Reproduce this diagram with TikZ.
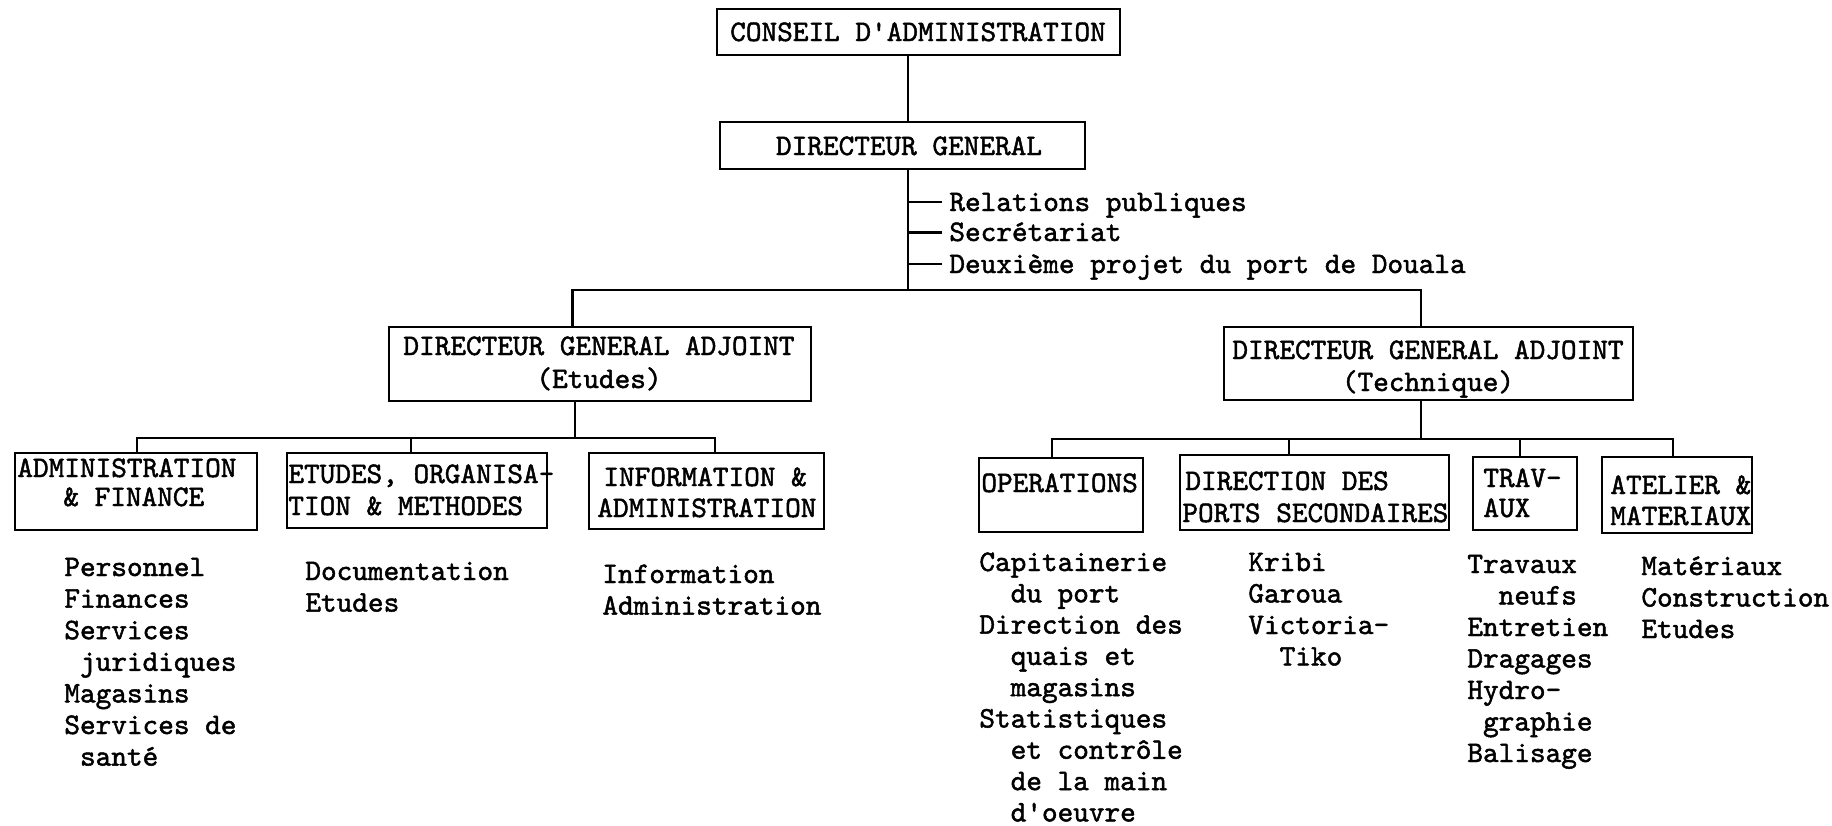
\documentclass[tikz,border=0pt]{standalone}
\usepackage{fontspec}
\newfontfamily\tw[FakeBold=1.6]{lmmono10-regular.otf}
\tikzset{
  box/.style={draw, line width=1.1pt, rectangle, inner sep=0pt},
  tx/.style={anchor=base west, inner sep=0pt, text depth=0pt, font=\tw\fontsize{14.9pt}{15.75pt}\selectfont},
  txc/.style={anchor=base, inner sep=0pt, text depth=0pt, font=\tw\fontsize{14.9pt}{15.75pt}\selectfont},
  ln/.style={line width=1.1pt}
}
\newcommand{\ind}[1]{\hspace*{#1\dimexpr 7.8225pt\relax}}
\begin{document}
\begin{tikzpicture}[x=0.5pt,y=-0.5pt]
\useasboundingbox (0,0) rectangle (1832,825);
% boxes
\node[box, minimum width=201.5pt, minimum height=23pt] (CA) at (918.5,32) {};
\node[box, minimum width=182.5pt, minimum height=23.5pt] (DG) at (902.5,145.5) {};
\node[box, minimum width=211pt, minimum height=37pt] (DGAE) at (600,364) {};
\node[box, minimum width=204.5pt, minimum height=36.5pt] (DGAT) at (1428.5,363.5) {};
\node[box, minimum width=121pt, minimum height=38.5pt] (ADM) at (136,491.5) {};
\node[box, minimum width=130pt, minimum height=37.5pt] (ETU) at (417,490.5) {};
\node[box, minimum width=117.5pt, minimum height=38pt] (INF) at (706.5,491) {};
\node[box, minimum width=82pt, minimum height=37pt] (OPS) at (1061,495) {};
\node[box, minimum width=134.5pt, minimum height=37.5pt] (DIR) at (1314.5,492.5) {};
\node[box, minimum width=52pt, minimum height=36.5pt] (TRA) at (1525,493.5) {};
\node[box, minimum width=75pt, minimum height=38pt] (ATE) at (1677,495) {};
% box texts
\node[txc] (CAt) at (918,41) {CONSEIL D'ADMINISTRATION};
\node[txc] (DGt) at (909,155) {DIRECTEUR GENERAL};
\node[txc] (DGAE1) at (599,355) {DIRECTEUR GENERAL ADJOINT};
\node[txc] (DGAE2) at (599,388) {(Etudes)};
\node[txc] (DGAT1) at (1428,359) {DIRECTEUR GENERAL ADJOINT};
\node[txc] (DGAT2) at (1428,391) {(Technique)};
\node[tx] (ADM1) at (17,477) {ADMINISTRATION};
\node[tx] (ADM2) at (63,506) {\& FINANCE};
\node[tx] (ETU1) at (288,483) {ETUDES, ORGANISA-};
\node[tx] (ETU2) at (288,515) {TION \& METHODES};
\node[tx] (INF1) at (603,486) {INFORMATION \&};
\node[tx] (INF2) at (597,517) {ADMINISTRATION};
\node[tx] (OPS1) at (981,492) {OPERATIONS};
\node[tx] (DIR1) at (1185,490) {DIRECTION DES};
\node[tx] (DIR2) at (1182,522) {PORTS SECONDAIRES};
\node[tx] (TRA1) at (1483,487) {TRAV-};
\node[tx] (TRA2) at (1483,517) {AUX};
\node[tx] (ATE1) at (1610,494) {ATELIER \&};
\node[tx] (ATE2) at (1610,525) {MATERIAUX};
% staff items
\node[tx] (S1) at (949,211) {Relations publiques};
\node[tx] (S2) at (949,241) {Secrétariat};
\node[tx] (S3) at (949,273) {Deuxième projet du port de Douala};
% lists
\foreach \t [count=\i] in {Personnel,Finances,Services,\ind{1}juridiques,Magasins,Services de,\ind{1}santé}
  \node[tx] (LA\i) at (64,576+31.6*\i-31.6) {\t};
\foreach \t [count=\i] in {Documentation,Etudes}
  \node[tx] (LE\i) at (305,580+31.6*\i-31.6) {\t};
\foreach \t [count=\i] in {Information,Administration}
  \node[tx] (LI\i) at (602,583+31.6*\i-31.6) {\t};
\foreach \t [count=\i] in {Capitainerie,\ind{2}du port,Direction des,\ind{2}quais et,\ind{2}magasins,Statistiques,\ind{2}et contrôle,\ind{2}de la main,\ind{2}d'oeuvre}
  \node[tx] (LO\i) at (979,571+31.3*\i-31.3) {\t};
\foreach \t [count=\i] in {Kribi,Garoua,Victoria-,\ind{2}Tiko}
  \node[tx] (LK\i) at (1248,571+31.5*\i-31.5) {\t};
\foreach \t [count=\i] in {Travaux,\ind{2}neufs,Entretien,Dragages,Hydro-,\ind{1}graphie,Balisage}
  \node[tx] (LT\i) at (1467,573+31.5*\i-31.5) {\t};
\foreach \t [count=\i] in {Matériaux,Construction,Etudes}
  \node[tx] (LM\i) at (1641,575+31.5*\i-31.5) {\t};
% connectors
\coordinate (j1) at (908,290);
\draw[ln] (CA.south -| j1) -- (DG.north -| j1);
\draw[ln] (DG.south -| j1) -- (j1);
\foreach \y [count=\k] in {202,232.5,264} {
  \coordinate (tk\k) at (942,\y);
  \draw[ln] (tk\k -| j1) -- (tk\k);
}
\coordinate (bL) at (572.5,290);
\coordinate (bR) at (1421,290);
\draw[ln] (DGAE.north -| bL) -- (bL) -- (bR) -- (DGAT.north -| bR);
% left sub-tree
\coordinate (sL) at (575,438);
\coordinate (sA) at (137,438);
\coordinate (sE) at (411,438);
\coordinate (sI) at (715,438);
\draw[ln] (DGAE.south -| sL) -- (sL);
\draw[ln] (ADM.north -| sA) -- (sA) -- (sI) -- (INF.north -| sI);
\draw[ln] (sE) -- (ETU.north -| sE);
% right sub-tree
\coordinate (sR) at (1421,439);
\coordinate (sO) at (1052,439);
\coordinate (sD) at (1289,439);
\coordinate (sT) at (1520,439);
\coordinate (sM) at (1673,439);
\draw[ln] (DGAT.south -| sR) -- (sR);
\draw[ln] (OPS.north -| sO) -- (sO) -- (sM) -- (ATE.north -| sM);
\draw[ln] (sD) -- (DIR.north -| sD);
\draw[ln] (sT) -- (TRA.north -| sT);
\end{tikzpicture}
\end{document}
